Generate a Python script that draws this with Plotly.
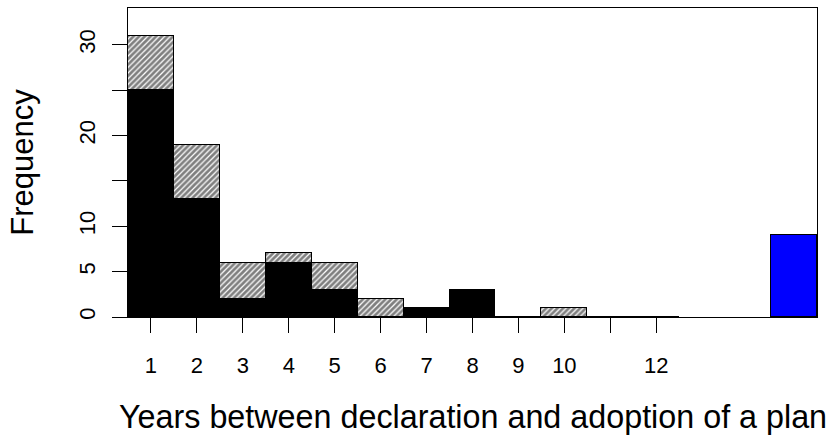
import plotly.graph_objects as go

# Years between declaration and plan adoption (1..12), split into two groups
years = list(range(1, 13))
solid_counts = [25, 13, 2, 6, 3, 0, 1, 3, 0, 0, 0, 0]
hatched_counts = [6, 6, 4, 1, 3, 2, 0, 0, 0, 1, 0, 0]

# Separate bar for cases without an adopted plan
pending_x = [15]
pending_counts = [9]

x_tickvals = list(range(1, 13))
x_ticktext = ["1", "2", "3", "4", "5", "6", "7", "8", "9", "10", "", "12"]
y_tickvals = [0, 5, 10, 15, 20, 25, 30]
y_ticktext = ["0", "5", "10", "", "20", "", "30"]

x_title = "Years between declaration and adoption of a plan"
y_title = "Frequency"

outline = dict(color="black", width=1)

fig = go.Figure()
fig.add_trace(go.Bar(
    x=years, y=solid_counts, width=1,
    marker=dict(color="black", line=outline),
    showlegend=False,
))
fig.add_trace(go.Bar(
    x=years, y=hatched_counts, width=1,
    marker=dict(
        color="white", line=outline,
        pattern=dict(shape="/", fgcolor="black", bgcolor="white",
                     size=4, solidity=0.7, fillmode="overlay"),
    ),
    showlegend=False,
))
fig.add_trace(go.Bar(
    x=pending_x, y=pending_counts, width=1,
    marker=dict(color="#0000ff", line=outline),
    showlegend=False,
))

font_family = "Liberation Sans, Arial, sans-serif"

fig.update_layout(
    barmode="stack",
    bargap=0,
    width=829, height=436,
    margin=dict(l=128, r=12, t=8, b=119, pad=0, autoexpand=False),
    paper_bgcolor="white", plot_bgcolor="white",
    font=dict(family=font_family, color="black"),
    xaxis=dict(
        range=[0.5, 15.5],
        tickvals=x_tickvals, ticktext=x_ticktext,
        ticks="outside", ticklen=15, tickwidth=1, tickcolor="black",
        tickfont=dict(size=22), ticklabelstandoff=14,
        showline=True, linecolor="black", linewidth=1, mirror=True,
        showgrid=False, zeroline=False, automargin=False,
    ),
    yaxis=dict(
        range=[0, 34.05],
        tickvals=y_tickvals, ticktext=y_ticktext,
        tickangle=-90,
        ticks="outside", ticklen=15, tickwidth=1, tickcolor="black",
        tickfont=dict(size=22), ticklabelstandoff=8,
        showline=True, linecolor="black", linewidth=1, mirror=True,
        showgrid=False, zeroline=False, automargin=False,
        title=dict(text=y_title, font=dict(size=31), standoff=32),
    ),
    annotations=[dict(
        text=x_title, xref="paper", yref="paper",
        x=0.5, y=-0.323, xanchor="center", yanchor="middle",
        showarrow=False, font=dict(size=32.3),
    )],
)

fig.write_html("out.html")
